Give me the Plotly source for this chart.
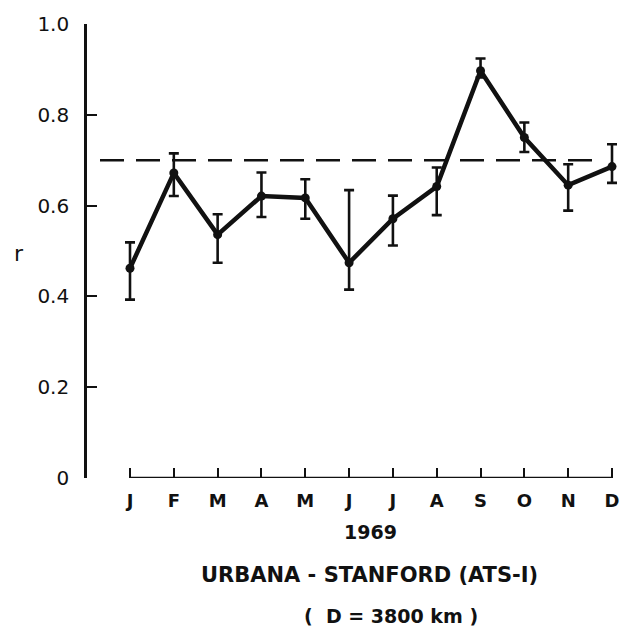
import plotly.graph_objects as go

months = ["J", "F", "M", "A", "M", "J", "J", "A", "S", "O", "N", "D"]
r_values = [0.462, 0.672, 0.536, 0.621, 0.617, 0.474, 0.571, 0.642, 0.897, 0.750, 0.645, 0.686]
err_plus = [0.057, 0.043, 0.045, 0.052, 0.041, 0.160, 0.051, 0.042, 0.027, 0.033, 0.046, 0.049]
err_minus = [0.069, 0.051, 0.062, 0.046, 0.046, 0.059, 0.059, 0.063, 0.015, 0.032, 0.056, 0.036]
ref_level = 0.70
y_ticks = [0, 0.2, 0.4, 0.6, 0.8, 1.0]
y_tick_text = ["0", "0.2", "0.4", "0.6", "0.8", "1.0"]

W, H = 622, 631
ml, mr, mt, mb = 85, 0, 24, 153
pw = W - ml - mr
ph = H - mt - mb

X_FIRST, X_LAST = 130, 612          # pixel positions of first and last month
unit = (X_LAST - X_FIRST) / (len(months) - 1)
x_min = -0.45
x_max = (len(months) - 1) + (W - X_LAST) / unit


def px_x(X):
    return (X - ml) / pw


def px_y(Y):
    return (H - mb - Y) / ph


x_idx = list(range(len(months)))
dom_start = px_x(X_FIRST + x_min * unit)

fig = go.Figure()
fig.add_trace(go.Scatter(
    x=x_idx, y=r_values,
    mode="lines+markers",
    line=dict(color="#111", width=4.5),
    marker=dict(color="#111", size=9),
    error_y=dict(type="data", symmetric=False, array=err_plus, arrayminus=err_minus,
                 color="#111", thickness=2.6, width=5),
    cliponaxis=False,
    showlegend=False,
))

# x axis baseline, from first month to last month
fig.add_shape(type="line", xref="x", yref="y", x0=0, x1=len(months) - 1, y0=0, y1=0,
              line=dict(color="#111", width=2.4), layer="below")

# dashed reference line
fig.add_shape(type="line", xref="paper", yref="y",
              x0=px_x(100), x1=px_x(602), y0=ref_level, y1=ref_level,
              line=dict(color="#111", width=2.4, dash="24px,12px"))

font_main = "DejaVu Sans"

fig.update_layout(
    width=W, height=H,
    margin=dict(l=ml, r=mr, t=mt, b=mb, pad=0),
    paper_bgcolor="white", plot_bgcolor="white",
    xaxis=dict(
        domain=[dom_start, 1.0],
        range=[x_min, x_max],
        tickmode="array", tickvals=x_idx, ticktext=months,
        ticks="inside", ticklen=10, tickwidth=2.2, tickcolor="#111",
        showline=False,
        showgrid=False, zeroline=False,
        tickfont=dict(family=font_main, size=18, color="#111", weight="bold"),
        ticklabelstandoff=10,
        fixedrange=True,
    ),
    yaxis=dict(
        anchor="free", position=0.0,
        range=[0, 1.0],
        tickmode="array", tickvals=y_ticks, ticktext=y_tick_text,
        ticks="inside", ticklen=10, tickwidth=2.4, tickcolor="#111",
        showline=True, linecolor="#111", linewidth=2.6,
        showgrid=False, zeroline=False,
        tickfont=dict(family=font_main, size=20, color="#111"),
        ticklabelstandoff=11,
        fixedrange=True,
    ),
    annotations=[
        dict(text="r", xref="paper", yref="paper", x=px_x(19), y=px_y(253),
             xanchor="center", yanchor="middle",
             showarrow=False, font=dict(family=font_main, size=22, color="#111")),
        dict(text="<b>1969</b>", xref="paper", yref="paper", x=px_x(370), y=px_y(532),
             xanchor="center", yanchor="middle",
             showarrow=False, font=dict(family=font_main, size=19, color="#111")),
        dict(text="<b>URBANA - STANFORD (ATS-I)</b>", xref="paper", yref="paper",
             x=px_x(369), y=px_y(575), xanchor="center", yanchor="middle",
             showarrow=False, font=dict(family=font_main, size=21, color="#111")),
        dict(text="<b>(  D = 3800 km )</b>", xref="paper", yref="paper",
             x=px_x(391), y=px_y(616), xanchor="center", yanchor="middle",
             showarrow=False, font=dict(family=font_main, size=19, color="#111")),
    ],
)

fig.write_html("out.html")
